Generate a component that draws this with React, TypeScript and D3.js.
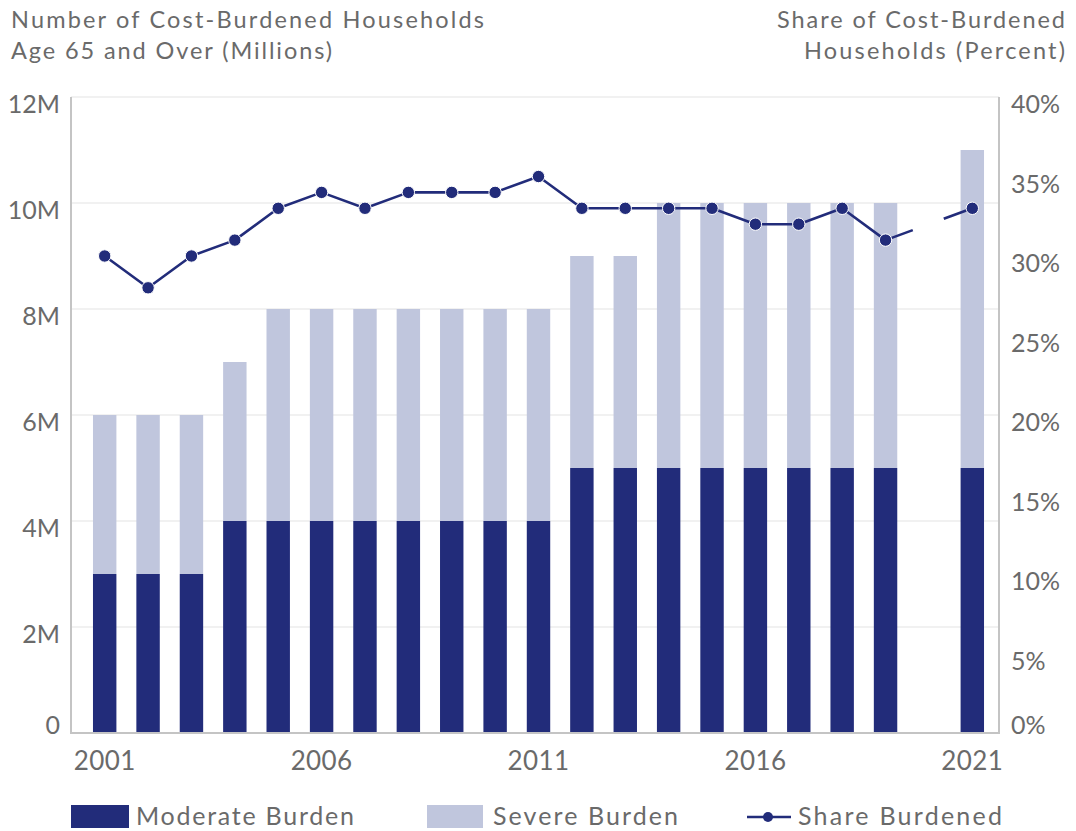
import React from "react";
import * as d3 from "d3";

// ---- data ----
const years = [2001, 2002, 2003, 2004, 2005, 2006, 2007, 2008, 2009, 2010, 2011, 2012, 2013, 2014, 2015, 2016, 2017, 2018, 2019, 2020, 2021];
const moderateBurden = [3, 3, 3, 4, 4, 4, 4, 4, 4, 4, 4, 5, 5, 5, 5, 5, 5, 5, 5, null, 5];
const severeBurden = [3, 3, 3, 3, 4, 4, 4, 4, 4, 4, 4, 4, 4, 5, 5, 5, 5, 5, 5, null, 6];
const shareBurdened = [30, 28, 30, 31, 33, 34, 33, 34, 34, 34, 35, 33, 33, 33, 33, 32, 32, 33, 31, null, 33];
const leftTicks = [0, 2, 4, 6, 8, 10, 12];
const rightTicks = [0, 5, 10, 15, 20, 25, 30, 35, 40];
const xTickYears = [2001, 2006, 2011, 2016, 2021];
const leftTitle = ["Number of Cost-Burdened Households", "Age 65 and Over (Millions)"];
const rightTitle = ["Share of Cost-Burdened", "Households (Percent)"];
const legendLabels = ["Moderate Burden", "Severe Burden", "Share Burdened"];

// ---- styles ----
const W = 1076;
const H = 831;
const DARK = "#222c7a";
const LIGHT = "#c0c6dd";
const TEXT = "#6a6a6a";
const AXIS = "#c4c4c4";
const GRID = "#e4e4e4";
const FONT = "Lato, 'Open Sans', sans-serif";

const plot = { left: 71, right: 999, top: 97, bottom: 733 };

export default function App() {
  const x = d3
    .scaleBand<number>()
    .domain(years)
    .range([83, 994])
    .paddingInner(0.46)
    .paddingOuter(0.23);
  const yL = d3.scaleLinear().domain([0, 12]).range([plot.bottom, plot.top]);
  const yR = d3.scaleLinear().domain([0, 40]).range([plot.bottom, plot.top]);
  const cx = (yr: number) => (x(yr) ?? 0) + x.bandwidth() / 2;

  const pts = years.map((yr, i) => ({ yr, v: shareBurdened[i] }));
  const line = d3
    .line<{ yr: number; v: number | null }>()
    .defined((d) => d.v != null)
    .x((d) => cx(d.yr))
    .y((d) => yR(d.v as number));

  // gap bridging (dashed) segments
  const gaps: { a: { yr: number; v: number }; b: { yr: number; v: number } }[] = [];
  for (let i = 1; i < pts.length - 1; i++) {
    if (pts[i].v == null && pts[i - 1].v != null && pts[i + 1].v != null) {
      gaps.push({ a: pts[i - 1] as any, b: pts[i + 1] as any });
    }
  }

  const labelY = (yPos: number, v: number) => (v === 0 ? yPos - 8 : yPos + 7) + 9;

  return (
    <svg
      width={W}
      height={H}
      style={{ position: "absolute", left: 0, top: 0, background: "#fff" }}
      fontFamily={FONT}
    >
      {/* titles */}
      <g fill={TEXT} fontSize={23.5}>
        <text x={11} y={28} textLength={473} lengthAdjust="spacing">{leftTitle[0]}</text>
        <text x={11} y={59} textLength={321} lengthAdjust="spacing">{leftTitle[1]}</text>
        <text x={777} y={28} textLength={288} lengthAdjust="spacing">{rightTitle[0]}</text>
        <text x={804} y={59} textLength={261} lengthAdjust="spacing">{rightTitle[1]}</text>
      </g>

      {/* gridlines */}
      <g>
        {leftTicks.map((t) => (
          <line key={t} x1={plot.left} x2={plot.right} y1={yL(t)} y2={yL(t)} stroke={GRID} strokeWidth={1.2} />
        ))}
      </g>

      {/* bars */}
      <g>
        {years.map((yr, i) => {
          const m = moderateBurden[i];
          const s = severeBurden[i];
          if (m == null || s == null) return null;
          return (
            <g key={yr}>
              <rect x={x(yr)} width={x.bandwidth()} y={yL(m + s)} height={yL(m) - yL(m + s)} fill={LIGHT} />
              <rect x={x(yr)} width={x.bandwidth()} y={yL(m)} height={yL(0) - yL(m)} fill={DARK} />
            </g>
          );
        })}
      </g>

      {/* axes frame */}
      <g stroke={AXIS} strokeWidth={2} fill="none">
        <line x1={plot.left} x2={plot.left} y1={plot.top} y2={plot.bottom + 1} />
        <line x1={plot.right} x2={plot.right} y1={plot.top} y2={plot.bottom + 1} />
        <line x1={plot.left - 1} x2={plot.right + 1} y1={plot.bottom} y2={plot.bottom} />
      </g>

      {/* line */}
      <path d={line(pts) ?? ""} fill="none" stroke={DARK} strokeWidth={2.6} strokeLinejoin="round" />
      {gaps.map((g, i) => (
        <line
          key={i}
          x1={cx(g.a.yr)}
          y1={yR(g.a.v)}
          x2={cx(g.b.yr)}
          y2={yR(g.b.v)}
          stroke={DARK}
          strokeWidth={2.6}
          strokeDasharray="29 33"
        />
      ))}
      {pts
        .filter((d) => d.v != null)
        .map((d) => (
          <circle key={d.yr} cx={cx(d.yr)} cy={yR(d.v as number)} r={6.2} fill={DARK} stroke="#fff" strokeWidth={1} />
        ))}

      {/* left ticks */}
      <g fill={TEXT} fontSize={25} textAnchor="end">
        {leftTicks.map((t) => (
          <text key={t} x={60} y={labelY(yL(t), t)}>
            {t === 0 ? "0" : `${t}M`}
          </text>
        ))}
      </g>
      {/* right ticks */}
      <g fill={TEXT} fontSize={25} textAnchor="start">
        {rightTicks.map((t) => (
          <text key={t} x={1011} y={labelY(yR(t), t)}>
            {`${t}%`}
          </text>
        ))}
      </g>
      {/* x ticks */}
      <g fill={TEXT} fontSize={26} textAnchor="middle">
        {xTickYears.map((yr) => (
          <text key={yr} x={cx(yr)} y={770} letterSpacing={0.4}>
            {yr}
          </text>
        ))}
      </g>

      {/* legend */}
      <g fontSize={25} fill={TEXT}>
        <rect x={71} y={805} width={58} height={23} fill={DARK} />
        <text x={136} y={825} textLength={218} lengthAdjust="spacing">{legendLabels[0]}</text>
        <rect x={427} y={805} width={56} height={23} fill={LIGHT} />
        <text x={493} y={825} textLength={185} lengthAdjust="spacing">{legendLabels[1]}</text>
        <line x1={747} x2={791} y1={817} y2={817} stroke={DARK} strokeWidth={2.6} />
        <circle cx={768} cy={817} r={5} fill={DARK} />
        <text x={798} y={825} textLength={204} lengthAdjust="spacing">{legendLabels[2]}</text>
      </g>
    </svg>
  );
}
